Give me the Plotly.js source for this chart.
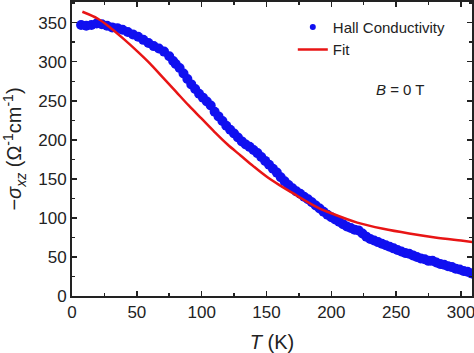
<!DOCTYPE html>
<html><head><meta charset="utf-8">
<script src="https://cdn.plot.ly/plotly-3.0.1.min.js"></script>
<style>html,body{margin:0;padding:0;background:#fff;}</style>
</head><body>
<div id="plot" style="width:474px;height:353px;"></div>
<script>
// Hall conductivity data (T in K, -sigma_xz in Ohm^-1 cm^-1)
const hallT = [7,11,15,19,23,27,31,35,39,43,47,51,55,59,63,67,71,75,78,80,83,86,89,92,95,98,101,104,107,110,113,116,119,122,125,128,131,134,137,140,143,146,149,152,155,158,161,164,167,170,173,176,179,182,185,188,191,194,197,200,203,206,209,212,215,218,221,224,227,230,233,236,239,242,245,248,251,254,257,260,263,266,269,272,275,278,281,284,287,290,293,296,299,302,305,308,311];
const hallSigma = [347,346,347,349,348,346,344,343,341,338,335,332,328,324,320,317,313,307,301,297,292,285,278,271,265,259,254,249,244,236,230,224,218,213,208,203,198,194,191,187,183,178,173,168,163,158,152,147,142,138,134,131,127,124,120,116,112,108,104,101,98,95,92,89,87,85,84,80,76,73,71,69,67,65,63,61,59,57,55,54,52,50,48,47,45,45,43,41,40,38,37,35,34,32,31,29,27];
// Fit curve
const fitT = [8,20,30,40,50,60,70,80,90,100,110,120,130,140,150,160,170,180,190,200,220,240,260,280,300,310];
const fitSigma = [364,355,343,329,314,298,280,262,244,227,210,194,180,166,153,142,132,122,113,106,94,86,80,75,71,69];
// Tick labels
const xTicks = [0,50,100,150,200,250,300];
const yTicks = [0,50,100,150,200,250,300,350];

const FONT = 'Liberation Sans, Arial, sans-serif';
const traces = [
  {x: hallT, y: hallSigma, type: 'scatter', mode: 'markers', name: 'Hall Conductivity', showlegend: false,
   marker: {color: '#1010f0', size: 10, line: {width: 0}}},
  {x: fitT, y: fitSigma, type: 'scatter', mode: 'lines', name: 'Fit', showlegend: false,
   line: {color: '#e81515', width: 2.5, shape: 'spline'}},
  {x: [null], y: [null], type: 'scatter', mode: 'markers', name: 'Hall Conductivity', marker: {color: '#1010f0', size: 6}},
  {x: [null], y: [null], type: 'scatter', mode: 'lines', name: 'Fit', line: {color: '#e81515', width: 2.5}}
];
const axisCommon = {
  showline: true, linecolor: '#222', linewidth: 2, mirror: 'allticks',
  ticks: 'inside', ticklen: 5, tickwidth: 1.5, tickcolor: '#222',
  showgrid: false, zeroline: false, automargin: false, ticklabeloverflow: 'allow',
  tickfont: {family: FONT, size: 17, color: '#222'}
};
const layout = {
  width: 474, height: 353,
  margin: {l: 72, r: 2, t: 2, b: 57},
  paper_bgcolor: '#fff', plot_bgcolor: '#fff',
  font: {family: FONT, color: '#222'},
  xaxis: Object.assign({}, axisCommon, {range: [0, 308.5], tickvals: xTicks,
    minor: {dtick: 25, tick0: 0, ticks: 'inside', ticklen: 3, tickcolor: '#222'},
    title: {text: '<i>T</i> (K)', font: {size: 20, family: FONT, color: '#222'}}}),
  yaxis: Object.assign({}, axisCommon, {range: [0, 376.5], tickvals: yTicks,
    minor: {dtick: 25, tick0: 0, ticks: 'inside', ticklen: 3, tickcolor: '#222'},
    title: {text: '−<i>σ</i><sub><i>xz</i></sub> (Ω<sup>-1</sup>cm<sup>-1</sup>)', font: {size: 20, family: FONT, color: '#222'}}}),
  legend: {x: 0.552, y: 0.97, xanchor: 'left', yanchor: 'top', bgcolor: 'rgba(0,0,0,0)',
    font: {size: 15, family: FONT, color: '#222'}},
  annotations: [{xref: 'x', yref: 'y', x: 253, y: 265, text: '<i>B</i> = 0 T', showarrow: false,
    font: {size: 15, family: FONT, color: '#222'}}]
};
Plotly.newPlot('plot', traces, layout, {displayModeBar: false, staticPlot: true});
</script>
</body></html>
